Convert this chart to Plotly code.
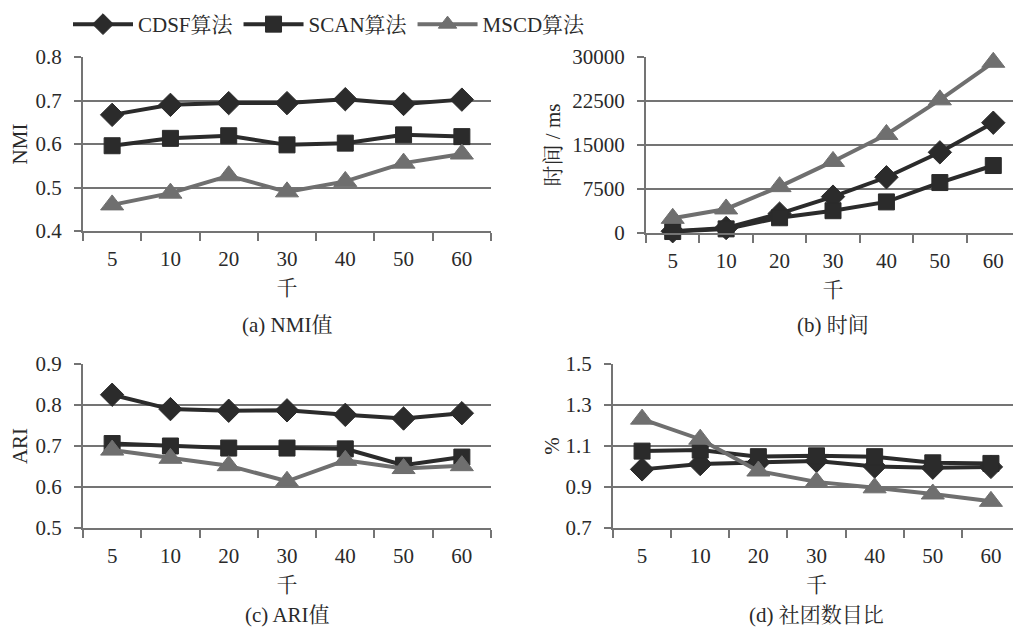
import plotly.graph_objects as go

categories = ["5", "10", "20", "30", "40", "50", "60"]
series_names = ["CDSF算法", "SCAN算法", "MSCD算法"]

nmi_cdsf = [0.667, 0.690, 0.694, 0.694, 0.703, 0.692, 0.702]
nmi_scan = [0.596, 0.613, 0.619, 0.598, 0.602, 0.621, 0.617]
nmi_mscd = [0.460, 0.487, 0.527, 0.490, 0.514, 0.556, 0.577]

time_cdsf = [300, 850, 3300, 6200, 9500, 13750, 18800]
time_scan = [250, 700, 2600, 3800, 5300, 8600, 11500]
time_mscd = [2500, 4100, 7900, 12200, 16800, 22700, 29100]

ari_cdsf = [0.825, 0.790, 0.786, 0.787, 0.776, 0.767, 0.780]
ari_scan = [0.706, 0.700, 0.695, 0.695, 0.693, 0.653, 0.673]
ari_mscd = [0.690, 0.670, 0.652, 0.614, 0.665, 0.645, 0.652]

cnt_cdsf = [0.986, 1.012, 1.020, 1.027, 1.000, 0.994, 0.998]
cnt_scan = [1.075, 1.080, 1.048, 1.052, 1.048, 1.018, 1.015]
cnt_mscd = [1.231, 1.133, 0.978, 0.925, 0.896, 0.866, 0.830]

panels = [
    dict(data=[nmi_cdsf, nmi_scan, nmi_mscd], ytitle="NMI", caption="(a) NMI值",
         yrange=[0.4, 0.8], dtick=0.1, tickformat=".1f"),
    dict(data=[time_cdsf, time_scan, time_mscd], ytitle="时间 / ms", caption="(b) 时间",
         yrange=[0, 30000], dtick=7500, tickformat="d"),
    dict(data=[ari_cdsf, ari_scan, ari_mscd], ytitle="ARI", caption="(c) ARI值",
         yrange=[0.5, 0.9], dtick=0.1, tickformat=".1f"),
    dict(data=[cnt_cdsf, cnt_scan, cnt_mscd], ytitle="%", caption="(d) 社团数目比",
         yrange=[0.7, 1.5], dtick=0.2, tickformat=".1f"),
]

# page body has an 8px default margin; figure is sized to fit the visible window
OFF = 8
W, H = 1021 - OFF, 633 - OFF
# pixel boxes in window coords: left, right, top, bottom
boxes = [(83, 491, 57, 231), (646, 1020, 57, 233), (83, 491, 364, 528), (613, 1020, 364, 528)]
caption_y = [325, 325, 615, 615]
title_standoff = [3, 6, 2, 0]

styles = [
    dict(color="#2b2b2b", symbol="diamond", size=18),
    dict(color="#2b2b2b", symbol="square", size=16),
    dict(color="#6f6f6f", symbol="triangle-up", size=20),
]

FONT = "Liberation Serif, Times New Roman, Noto Serif CJK SC, Noto Sans CJK SC, serif"
TXT = "#2a2a2a"
FS = 21
AX = "#747474"

fig = go.Figure()
layout = dict(
    width=W, height=H, margin=dict(l=0, r=0, t=0, b=0, autoexpand=False),
    paper_bgcolor="white", plot_bgcolor="white",
    font=dict(family=FONT, size=FS, color=TXT),
    showlegend=True,
    legend=dict(orientation="h", x=(68 - OFF) / W, y=1 - (4 - OFF) / H, xanchor="left", yanchor="top",
                font=dict(size=FS, family=FONT, color=TXT), itemwidth=60,
                bgcolor="rgba(0,0,0,0)", tracegroupgap=0),
)
annotations = []
for i, p in enumerate(panels):
    n = i + 1
    xa = "x" if n == 1 else f"x{n}"
    ya = "y" if n == 1 else f"y{n}"
    l, r, t, b = [v - OFF for v in boxes[i]]
    for j, vals in enumerate(p["data"]):
        s = styles[j]
        fig.add_trace(go.Scatter(
            x=categories, y=vals, xaxis=xa, yaxis=ya, mode="lines+markers",
            name=series_names[j], showlegend=(i == 0), legendgroup=series_names[j],
            line=dict(color=s["color"], width=4),
            marker=dict(symbol=s["symbol"], size=s["size"], color=s["color"],
                        line=dict(color=s["color"], width=1)),
            cliponaxis=False,
        ))
    layout["xaxis" if n == 1 else f"xaxis{n}"] = dict(
        domain=[l / W, min(r / W, 1)], anchor=ya, type="category", tickson="boundaries",
        ticks="outside", ticklen=8, tickwidth=2, tickcolor=AX,
        showline=True, linecolor=AX, linewidth=2, showgrid=False,
        tickfont=dict(size=FS, family=FONT, color=TXT), ticklabelstandoff=8,
        title=dict(text="千", font=dict(size=FS, family=FONT, color=TXT), standoff=10),
        range=[-0.5, 6.5], fixedrange=True,
    )
    layout["yaxis" if n == 1 else f"yaxis{n}"] = dict(
        domain=[1 - b / H, 1 - t / H], anchor=xa, range=p["yrange"], dtick=p["dtick"],
        tick0=p["yrange"][0], tickformat=p["tickformat"],
        ticks="outside", ticklen=7, tickwidth=2, tickcolor=AX,
        showline=True, linecolor=AX, linewidth=2,
        showgrid=True, gridcolor=AX, gridwidth=2, zeroline=False,
        tickfont=dict(size=FS, family=FONT, color=TXT), ticklabelstandoff=8,
        title=dict(text=p["ytitle"], font=dict(size=FS, family=FONT, color=TXT),
                   standoff=title_standoff[i]),
        fixedrange=True,
    )
    annotations.append(dict(
        text=p["caption"], xref="paper", yref="paper", x=(l + r) / 2 / W,
        y=1 - (caption_y[i] - OFF) / H,
        xanchor="center", yanchor="middle", showarrow=False,
        font=dict(size=FS, family=FONT, color=TXT),
    ))

layout["annotations"] = annotations
fig.update_layout(**layout)
fig.write_html("out.html")
